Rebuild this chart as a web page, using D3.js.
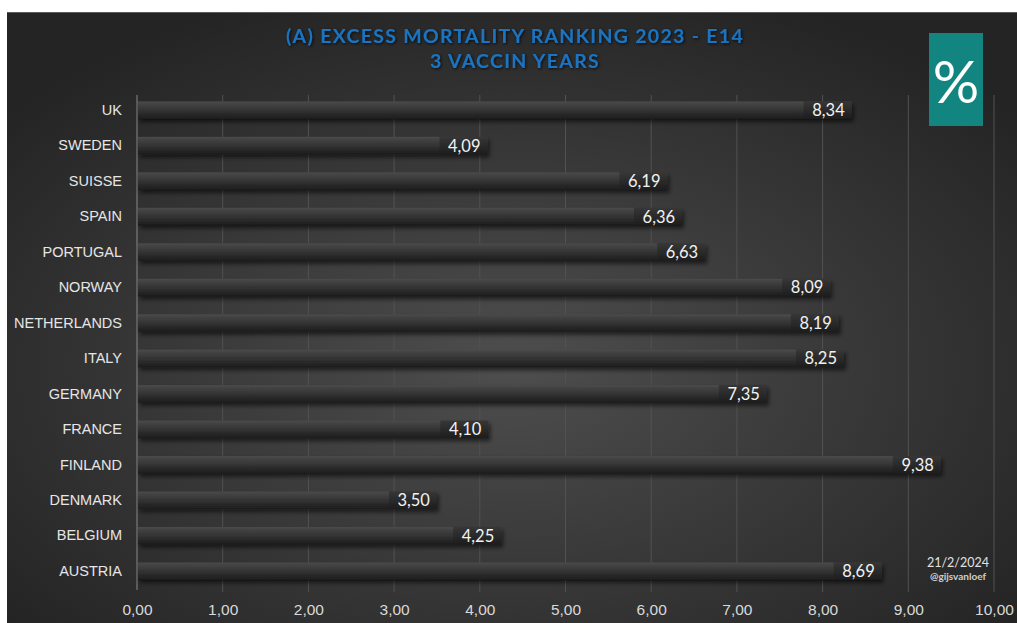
<!DOCTYPE html>
<html>
<head>
<meta charset="utf-8">
<script src="https://cdn.jsdelivr.net/npm/d3@7"></script>
<style>
  body { margin: 0; background: #fff; }
  svg { display: block; font-family: Lato, "Open Sans", sans-serif; }
</style>
</head>
<body>
<svg id="chart"></svg>
<script>
// Chart data
const countries = ["UK", "SWEDEN", "SUISSE", "SPAIN", "PORTUGAL", "NORWAY", "NETHERLANDS",
  "ITALY", "GERMANY", "FRANCE", "FINLAND", "DENMARK", "BELGIUM", "AUSTRIA"];
const excess = [8.34, 4.09, 6.19, 6.36, 6.63, 8.09, 8.19, 8.25, 7.35, 4.10, 9.38, 3.50, 4.25, 8.69];
const xTicks = [0, 1, 2, 3, 4, 5, 6, 7, 8, 9, 10];
const titleLines = ["(A) EXCESS MORTALITY RANKING 2023 - E14", "3 VACCIN YEARS"];

const width = 1017, height = 623;
const svg = d3.select("#chart").attr("width", width).attr("height", height);
const defs = svg.append("defs");

// background gradient
const bg = defs.append("radialGradient").attr("id", "bg")
  .attr("cx", "50%").attr("cy", "58%").attr("r", "65%");
bg.append("stop").attr("offset", "0%").attr("stop-color", "#4e4e4e");
bg.append("stop").attr("offset", "100%").attr("stop-color", "#242424");

const barGrad = defs.append("linearGradient").attr("id", "bar")
  .attr("x1", 0).attr("y1", 0).attr("x2", 0).attr("y2", 1);
barGrad.append("stop").attr("offset", "0%").attr("stop-color", "#4a4a4a");
barGrad.append("stop").attr("offset", "35%").attr("stop-color", "#3a3a3a");
barGrad.append("stop").attr("offset", "100%").attr("stop-color", "#1c1c1c");

const shadow = defs.append("filter").attr("id", "shadow")
  .attr("x", "-5%").attr("y", "-30%").attr("width", "110%").attr("height", "180%");
shadow.append("feDropShadow").attr("dx", 2).attr("dy", 3).attr("stdDeviation", 2)
  .attr("flood-color", "#000").attr("flood-opacity", 0.55);

const glow = defs.append("filter").attr("id", "glow");
glow.append("feDropShadow").attr("dx", 1).attr("dy", 1).attr("stdDeviation", 1.5)
  .attr("flood-color", "#000").attr("flood-opacity", 0.8);

svg.append("rect").attr("x", 7).attr("y", 12).attr("width", width - 7).attr("height", height - 12)
  .attr("fill", "url(#bg)");
svg.append("line").attr("x1", 7).attr("x2", width).attr("y1", 12.5).attr("y2", 12.5)
  .attr("stroke", "#5a5a5a");

// scales
const x = d3.scaleLinear().domain([0, 10]).range([137, 994]);
const y = d3.scaleBand().domain(countries).range([92.5, 589]).paddingInner(0.5).paddingOuter(0.25);

// gridlines
svg.append("g").selectAll("line").data(xTicks.slice(1)).join("line")
  .attr("x1", d => x(d)).attr("x2", d => x(d))
  .attr("y1", 95).attr("y2", 592)
  .attr("stroke", "#525252").attr("stroke-width", 1);

// x axis labels
const xAxis = svg.append("g").attr("transform", "translate(0,590)")
  .call(d3.axisBottom(x).tickValues(xTicks).tickSize(0).tickPadding(14)
    .tickFormat(d => d3.format(".2f")(d).replace(".", ",")));
xAxis.select(".domain").remove();
xAxis.selectAll("text").attr("fill", "#d9d9d9").attr("font-size", 15.5);

// vertical axis line
svg.append("line").attr("x1", x(0)).attr("x2", x(0)).attr("y1", 95).attr("y2", 590)
  .attr("stroke", "#8a8a8a");

// category labels
const yAxis = svg.append("g").attr("transform", `translate(${x(0)},0)`)
  .call(d3.axisLeft(y).tickSize(0).tickPadding(15));
yAxis.select(".domain").remove();
yAxis.selectAll("text").attr("fill", "#e6e6e6").attr("font-size", 14.5);

// bars
const rows = svg.append("g").selectAll("g").data(countries).join("g");
rows.append("rect")
  .attr("x", x(0) + 1)
  .attr("y", d => y(d))
  .attr("width", (d, i) => x(excess[i]) - x(0) - 1)
  .attr("height", y.bandwidth())
  .attr("fill", "url(#bar)")
  .attr("filter", "url(#shadow)");

// label boxes
rows.append("rect")
  .attr("x", (d, i) => x(excess[i]) - 48)
  .attr("y", d => y(d))
  .attr("width", 48)
  .attr("height", y.bandwidth())
  .attr("fill", "#1e1e1e").attr("opacity", 0.45);

rows.append("text")
  .attr("x", (d, i) => x(excess[i]) - 7)
  .attr("y", d => y(d) + y.bandwidth() / 2)
  .attr("dy", "0.36em")
  .attr("text-anchor", "end")
  .attr("fill", "#f2f2f2").attr("font-size", 16.5)
  .text((d, i) => d3.format(".2f")(excess[i]).replace(".", ","));

// title
svg.append("g").selectAll("text").data(titleLines).join("text")
  .attr("x", 515).attr("y", (d, i) => 43 + i * 25)
  .attr("text-anchor", "middle")
  .attr("fill", "#1a73c0").attr("font-size", 19.5).attr("font-weight", "bold")
  .attr("letter-spacing", 1.3)
  .attr("filter", "url(#glow)")
  .text(d => d);

// percent badge
svg.append("rect").attr("x", 929).attr("y", 33).attr("width", 54).attr("height", 93)
  .attr("fill", "#128580");
svg.append("text").attr("x", 956).attr("y", 103).attr("text-anchor", "middle")
  .attr("fill", "#fff").attr("font-size", 58).text("%");

// signature
svg.append("text").attr("x", 958).attr("y", 567).attr("text-anchor", "middle")
  .attr("fill", "#e0e0e0").attr("font-size", 12.5).text("21/2/2024");
svg.append("text").attr("x", 958).attr("y", 580).attr("text-anchor", "middle")
  .attr("fill", "#cfcfcf").attr("font-size", 10).attr("font-weight", "bold").text("@gijsvanloef");
</script>
</body>
</html>
